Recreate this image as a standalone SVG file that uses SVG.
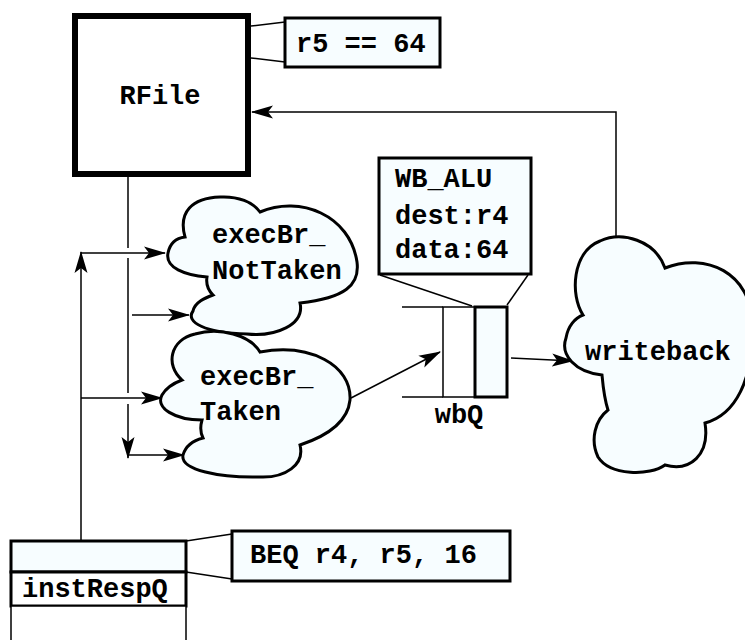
<svg xmlns="http://www.w3.org/2000/svg" width="745" height="640" viewBox="0 0 745 640">
<style>
text{font-family:"Liberation Mono","Courier New",monospace;font-weight:bold;font-size:27px;fill:#000}
.cloud{fill:#f7fdff;stroke:#000;stroke-width:3}
.box{fill:#f7fdff;stroke:#000;stroke-width:3}
.ln{fill:none;stroke:#000;stroke-width:1.5}
.arr{fill:none;stroke:#000;stroke-width:1.5;marker-end:url(#ah)}
</style>
<defs>
<marker id="ah" markerUnits="userSpaceOnUse" markerWidth="22" markerHeight="14" refX="21" refY="7" orient="auto">
<path d="M0,0.5 L22,7 L0,13.5 L5,7 z" fill="#000"/>
</marker>
</defs>
<rect width="745" height="640" fill="#fff"/>
<g id="connectors">
<polyline class="arr" points="616,236 616,112 252,112"/>
<line class="ln" x1="128" y1="177" x2="128" y2="248"/>
<line class="ln" x1="128" y1="258" x2="128" y2="393"/>
<line class="arr" x1="128" y1="404" x2="128" y2="458"/>
<line class="arr" x1="81" y1="541" x2="81" y2="252"/>
<line class="arr" x1="81" y1="253" x2="165" y2="253"/>
<line class="arr" x1="81" y1="398" x2="162" y2="398"/>
<line class="arr" x1="132" y1="315" x2="189" y2="315"/>
<line class="arr" x1="128" y1="455" x2="184" y2="455"/>
<line class="arr" x1="351" y1="398" x2="440" y2="352"/>
<line class="arr" x1="511" y1="358" x2="573" y2="361"/>
<line class="ln" x1="251" y1="26" x2="285" y2="22"/>
<line class="ln" x1="251" y1="58" x2="285" y2="62"/>
<line class="ln" x1="380" y1="275" x2="472" y2="306"/>
<line class="ln" x1="528" y1="275" x2="507" y2="305"/>
<line class="ln" x1="186" y1="541" x2="232" y2="534"/>
<line class="ln" x1="186" y1="572" x2="232" y2="579"/>
</g>
<g id="RFile">
<rect x="75" y="16" width="173" height="158" fill="#fff" stroke="#000" stroke-width="6"/>
<text x="160" y="104" text-anchor="middle">RFile</text>
</g>
<g id="rfile-note">
<rect class="box" x="285" y="18" width="155" height="49"/>
<text x="296" y="52">r5 == 64</text>
</g>
<g id="execBr_NotTaken">
<path class="cloud" d="M185,237 C178,212 192,198 220,197 C238,196 253,202 260,212 C300,195 350,215 357,262 C360,285 345,298 300,303 C305,325 275,337 247,334 C205,333 185,322 193,311 C195,302 205,298 213,295 C208,290 206,283 207,277 C185,275 165,268 168,253 C170,243 177,238 185,237 Z"/>
<text x="212" y="243">execBr_</text>
<text x="212" y="279">NotTaken</text>
</g>
<g id="execBr_Taken">
<path class="cloud" d="M182,380 C165,365 170,340 195,334 C220,327 250,335 260,352 C310,343 352,365 350,400 C348,420 330,435 300,445 C305,465 285,478 260,477 C220,478 180,470 183,455 C186,445 195,440 203,438 C200,432 200,427 202,420 C175,420 155,408 162,395 C166,388 174,383 182,380 Z"/>
<text x="200" y="385">execBr_</text>
<text x="200" y="420">Taken</text>
</g>
<g id="wbQ">
<line class="ln" x1="402" y1="307" x2="443" y2="307"/>
<line class="ln" x1="402" y1="397" x2="443" y2="397"/>
<rect x="443" y="307" width="32" height="90" fill="#fff" stroke="#000" stroke-width="1.5"/>
<rect x="475" y="307" width="32" height="90" fill="#f7fdff" stroke="#000" stroke-width="3"/>
<text x="459" y="423" text-anchor="middle">wbQ</text>
</g>
<g id="wbQ-note">
<rect class="box" x="379" y="158" width="152" height="116"/>
<text x="395" y="187">WB_ALU</text>
<text x="395" y="224">dest:r4</text>
<text x="395" y="258">data:64</text>
</g>
<g id="writeback">
<path class="cloud" d="M583,315 C570,295 572,252 600,241 C622,231 655,240 665,268 C705,252 752,272 752,325 C754,380 735,415 705,423 C710,455 690,472 665,465 C650,476 610,476 598,457 C590,440 595,420 608,410 C604,398 603,386 602,375 C575,372 560,355 566,338 C568,326 575,318 583,315 Z"/>
<text x="585" y="360">writeback</text>
</g>
<g id="instRespQ">
<rect x="11" y="541" width="175" height="31" fill="#f7fdff" stroke="#000" stroke-width="3"/>
<rect x="11" y="572" width="175" height="34" fill="#fff" stroke="#000" stroke-width="3"/>
<rect x="11" y="606" width="175" height="40" fill="#fff" stroke="#000" stroke-width="1.5"/>
<text x="22" y="597">instRespQ</text>
</g>
<g id="instRespQ-note">
<rect class="box" x="232" y="531" width="278" height="50"/>
<text x="250" y="563">BEQ r4, r5, 16</text>
</g>
</svg>
